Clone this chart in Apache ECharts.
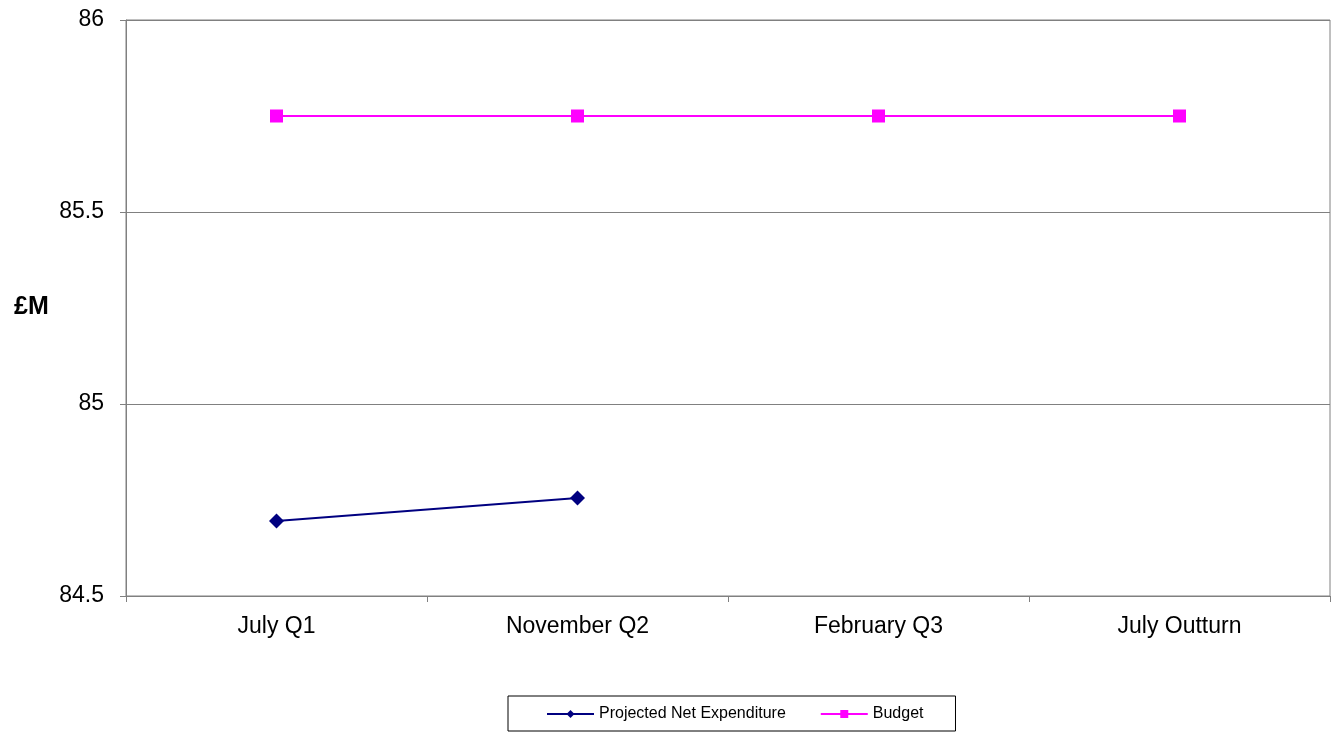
<!DOCTYPE html>
<html>
<head>
<meta charset="utf-8">
<script src="https://cdn.jsdelivr.net/npm/echarts@6/dist/echarts.min.js"></script>
<style>
  html, body { margin: 0; padding: 0; background: #fff; }
  #chart { width: 1335px; height: 733px; }
</style>
</head>
<body>
<div id="chart"></div>
<script>
const categories = ['July Q1', 'November Q2', 'February Q3', 'July Outturn'];
const projected = [84.695, 84.755, null, null];
const budget = [85.75, 85.75, 85.75, 85.75];

const font = 'Liberation Sans, Arial, sans-serif';
let chart = echarts.init(document.getElementById('chart'));
const option = {
    animation: false,
    textStyle: {fontFamily: font},
    title: {
        text: '£M',
        left: 9,
        top: 290,
        textStyle: {fontFamily: font, fontSize: 25, fontWeight: 'bold', color: '#000'}
    },
    grid: {
        left: 126, right: 5, top: 20, bottom: 137,
        show: true, borderColor: '#808080', borderWidth: 1
    },
    legend: {
        left: 508, top: 696,
        padding: [10, 32, 9, 38],
        borderColor: '#000', borderWidth: 1,
        itemWidth: 47, itemHeight: 10, itemGap: 34,
        textStyle: {fontFamily: font, fontSize: 16, color: '#000'},
        data: ['Projected Net Expenditure', 'Budget']
    },
    xAxis: {
        type: 'category',
        data: categories,
        boundaryGap: true,
        axisLine: {lineStyle: {color: '#808080', width: 1}},
        axisTick: {show: true, alignWithLabel: false, length: 6, lineStyle: {color: '#808080'}},
        axisLabel: {fontFamily: font, fontSize: 23, color: '#000', margin: 19}
    },
    yAxis: {
        type: 'value',
        min: 84.5, max: 86, interval: 0.5,
        axisLine: {show: true, lineStyle: {color: '#808080', width: 1}},
        axisTick: {show: true, length: 6, lineStyle: {color: '#808080'}},
        axisLabel: {fontFamily: font, fontSize: 23, color: '#000', margin: 22},
        splitLine: {lineStyle: {color: '#808080', width: 1}}
    },
    series: [
        {
            name: 'Projected Net Expenditure',
            type: 'line',
            data: projected,
            symbol: 'diamond',
            symbolSize: 15,
            color: '#000080',
            lineStyle: {width: 2, color: '#000080'},
            itemStyle: {color: '#000080'}
        },
        {
            name: 'Budget',
            type: 'line',
            data: budget,
            symbol: 'rect',
            symbolSize: 13,
            color: '#ff00ff',
            lineStyle: {width: 2, color: '#ff00ff'},
            itemStyle: {color: '#ff00ff'}
        }
    ]
};
chart.setOption(option);
window.addEventListener('resize', function () {
    chart.resize();
});
</script>
</body>
</html>
